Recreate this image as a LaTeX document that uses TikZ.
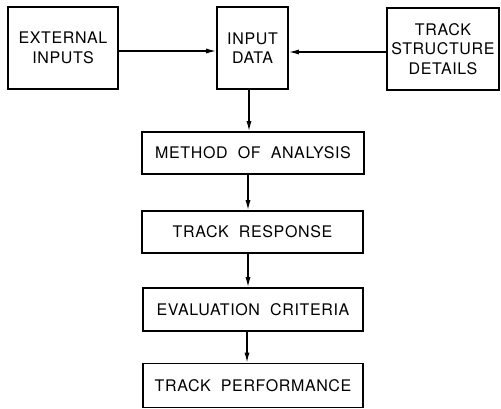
\documentclass[tikz,border=0pt]{standalone}
\usepackage{fontspec}
\setmainfont{TeX Gyre Heros}[LetterSpace=4]
\usetikzlibrary{arrows.meta}
\begin{document}
\begin{tikzpicture}[x=1pt,y=-1pt,
  blk/.style={draw,line width=1.6pt,inner sep=0pt,align=center,font=\fontsize{16}{19.5}\selectfont},
  arr/.style={line width=1.3pt,-{Latex[length=10pt,width=5pt]}}]
\useasboundingbox (0,0) rectangle (501,409);
\node[blk,minimum width=110,minimum height=82] (ext) at (63,48) {EXTERNAL\\INPUTS};
\node[blk,minimum width=71,minimum height=82] (inp) at (252.5,48) {INPUT\\DATA};
\node[blk,minimum width=112,minimum height=82] (tsd) at (443,49) {TRACK\\STRUCTURE\\DETAILS};
\node[blk,minimum width=222,minimum height=42] (moa) at (253,153) {METHOD\ \ OF\ \ ANALYSIS};
\node[blk,minimum width=221,minimum height=42] (tr) at (252.5,232) {TRACK\ \ RESPONSE};
\node[blk,minimum width=220,minimum height=43] (ec) at (253,309.5) {EVALUATION\ \ CRITERIA};
\node[blk,minimum width=220,minimum height=44] (tp) at (253,385.5) {TRACK\ \ PERFORMANCE};
\draw[arr] (ext.east |- 0,51) -- (inp.west |- 0,51);
\draw[arr] (tsd.west |- 0,52) -- (inp.east |- 0,52);
\draw[arr] (inp.south -| 249,0) -- (moa.north -| 249,0);
\draw[arr] (moa.south -| 248,0) -- (tr.north -| 248,0);
\draw[arr] (tr.south -| 248,0) -- (ec.north -| 248,0);
\draw[arr] (ec.south -| 247,0) -- (tp.north -| 247,0);
\end{tikzpicture}
\end{document}
